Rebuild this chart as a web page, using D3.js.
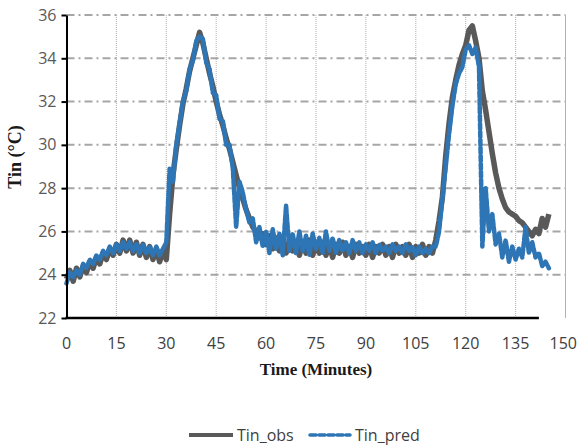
<!DOCTYPE html>
<html><head><meta charset="utf-8">
<script src="https://cdn.jsdelivr.net/npm/d3@7"></script>
<style>
body{margin:0;background:#fff;}
svg{display:block;}
</style></head>
<body>
<script>
// ---- data (minutes 0..145, one sample per minute) ----
const xTicks = [0,15,30,45,60,75,90,105,120,135,150];
const yTicks = [22,24,26,28,30,32,34,36];
const seriesNames = ["Tin_obs","Tin_pred"];
const tinObs = [
23.8,24.2,23.7,24.3,23.9,24.4,24.1,24.6,24.3,24.8,
24.5,25.0,24.7,25.2,24.9,25.4,25.0,25.6,25.1,25.6,
25.0,25.5,24.9,25.4,24.8,25.3,24.7,25.2,24.6,25.1,
24.7,26.8,28.6,29.8,30.9,31.9,32.6,33.4,34.0,34.6,
35.2,34.7,34.0,33.3,32.7,32.0,31.4,30.9,30.3,29.8,
29.2,28.6,28.0,27.5,27.0,26.6,26.2,26.0,25.7,25.9,
25.4,25.8,25.2,25.7,25.1,25.6,25.0,25.6,25.1,25.5,
24.9,25.5,25.0,25.6,24.9,25.4,25.0,25.5,24.9,25.4,
24.8,25.4,25.0,25.5,24.9,25.3,24.8,25.4,25.0,25.3,
24.9,25.4,24.8,25.3,25.0,25.4,24.9,25.3,24.8,25.4,
25.0,25.3,24.9,25.4,24.8,25.3,25.0,25.4,24.9,25.3,
25.0,25.6,26.5,27.6,29.5,31.0,32.2,33.0,33.7,34.2,
34.6,35.3,35.5,34.8,34.0,32.5,31.6,30.6,29.6,28.7,
28.0,27.5,27.1,26.9,26.8,26.7,26.5,26.4,26.2,26.0,
25.8,26.1,25.9,26.6,26.2,26.8];
const tinPred = [
23.6,24.1,23.9,24.2,24.0,24.5,24.3,24.7,24.5,24.9,
24.7,25.1,24.9,25.3,25.0,25.4,25.1,25.5,25.2,25.5,
25.1,25.4,25.0,25.4,25.0,25.3,24.9,25.3,24.9,25.2,
25.5,28.9,28.3,30.0,31.0,32.0,32.5,33.5,33.9,34.8,
35.0,34.9,33.8,33.5,32.4,32.3,31.2,31.1,30.0,30.0,
28.9,26.2,28.3,27.8,27.0,26.4,26.6,25.5,26.2,25.3,
26.0,25.0,26.1,25.2,25.9,24.9,27.2,25.1,25.9,25.0,
26.0,25.1,25.8,24.9,25.9,25.2,25.7,25.0,26.0,25.1,
25.7,25.0,25.6,25.1,25.5,25.0,25.6,25.1,25.5,25.0,
25.4,25.1,25.5,25.0,25.4,25.1,25.3,25.0,25.4,25.1,
25.3,25.0,25.4,25.1,25.3,24.9,25.3,25.0,25.2,25.0,
25.3,25.3,26.0,27.5,29.0,30.5,31.8,32.8,33.3,33.6,
34.4,34.6,34.2,34.5,33.6,25.3,28.0,26.0,26.8,25.4,
25.9,24.8,25.6,24.6,25.3,24.7,25.2,24.8,26.2,25.0,
25.5,24.8,25.0,24.4,24.6,24.3];

// ---- layout ----
const W = 578, H = 448;
const L = 66.5, R = 565.5, T = 15, B = 318;
const tickFont = "'Open Sans',sans-serif";
const svg = d3.select("body").append("svg").attr("width", W).attr("height", H);

const x = d3.scaleLinear().domain([0,150]).range([L,R]);
const y = d3.scaleLinear().domain([22,36]).range([B,T]);

// vertical dotted grid
svg.append("g").selectAll("line").data(xTicks.filter(d=>d>0)).join("line")
  .attr("x1",d=>x(d)).attr("x2",d=>x(d)).attr("y1",T).attr("y2",B)
  .attr("stroke","#b0b0b0").attr("stroke-width",1).attr("stroke-dasharray","1,1");
// horizontal dash-dot grid
svg.append("g").selectAll("line").data(yTicks.filter(d=>d>22)).join("line")
  .attr("x1",L).attr("x2",R).attr("y1",d=>y(d)).attr("y2",d=>y(d))
  .attr("stroke","#a6a6a6").attr("stroke-width",2).attr("stroke-dasharray","8,4,2,4");

// series
const line = d3.line().x((d,i)=>x(i)).y(d=>y(d));
svg.append("path").datum(tinObs).attr("d",line)
  .attr("fill","none").attr("stroke","#595959").attr("stroke-width",5.5).attr("stroke-linejoin","round");
svg.append("path").datum(tinPred).attr("d",line)
  .attr("fill","none").attr("stroke","#2e75b6").attr("stroke-width",4.5)
  .attr("stroke-dasharray","6,2").attr("stroke-linecap","round").attr("stroke-linejoin","round");

// y axis
const yAxis = d3.axisLeft(y).tickValues(yTicks).tickSize(5).tickPadding(5).tickSizeOuter(0);
const gy = svg.append("g").attr("transform",`translate(${L},0)`).call(yAxis);
gy.select(".domain").attr("stroke","#000").attr("stroke-width",2);
gy.selectAll(".tick line").attr("stroke","#000").attr("stroke-width",2);
gy.selectAll(".tick text").attr("fill","#595959").style("font-family",tickFont).style("font-size","16px");

// x axis line (ends short of the plot's right edge, as in the original)
svg.append("line").attr("x1",L-1).attr("x2",x(142)).attr("y1",B).attr("y2",B)
  .attr("stroke","#000").attr("stroke-width",2.5);
svg.append("line").attr("x1",R).attr("x2",R).attr("y1",T).attr("y2",B)
  .attr("stroke","#b0b0b0").attr("stroke-width",1);

// x tick labels
const xl = svg.append("g").selectAll("text").data(xTicks).join("text")
  .attr("x",d=>x(d)).attr("y",349).attr("text-anchor","middle")
  .attr("fill","#404040").style("font-family",tickFont).style("font-size","16px")
  .text(d=>d);
xl.each(function(d){
  const w = this.getComputedTextLength();
  if (x(d) + w/2 > W - 1) d3.select(this).attr("x", W - 1 - w/2);
});

// axis titles
svg.append("text").attr("x",316).attr("y",375).attr("text-anchor","middle")
  .style("font-family","'Liberation Serif','Times New Roman',serif").style("font-weight","bold")
  .style("font-size","17px").attr("fill","#1a1a1a").text("Time (Minutes)");
svg.append("text").attr("transform","translate(21,157) rotate(-90)").attr("text-anchor","middle")
  .style("font-family","'Liberation Serif','Times New Roman',serif").style("font-weight","bold")
  .style("font-size","18px").attr("fill","#1a1a1a").text("Tin (°C)");

// legend
const lg = svg.append("g");
lg.append("line").attr("x1",189).attr("x2",233).attr("y1",435).attr("y2",435)
  .attr("stroke","#595959").attr("stroke-width",4);
lg.append("text").attr("x",237).attr("y",441).attr("fill","#404040")
  .style("font-family",tickFont).style("font-size","16px").text(seriesNames[0]);
lg.append("line").attr("x1",310).attr("x2",350).attr("y1",435).attr("y2",435)
  .attr("stroke","#2e75b6").attr("stroke-width",3.5).attr("stroke-dasharray","6,3").attr("stroke-linecap","round");
lg.append("text").attr("x",355).attr("y",441).attr("fill","#404040")
  .style("font-family",tickFont).style("font-size","16px").text(seriesNames[1]);
</script>
</body></html>
